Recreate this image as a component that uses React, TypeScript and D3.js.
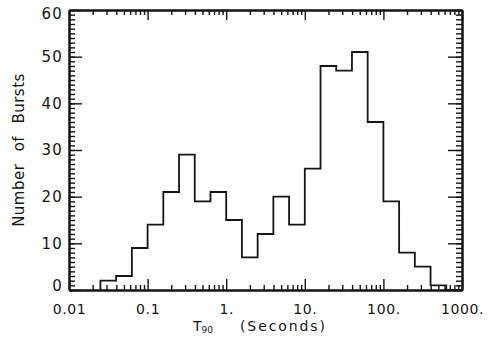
import React, { useEffect, useRef } from "react";
import * as d3 from "d3";

// bin edges (seconds), 0.2 dex wide
const binEdges = [0.0251, 0.0398, 0.0631, 0.1, 0.1585, 0.2512, 0.3981, 0.631, 1, 1.585, 2.512, 3.981,
  6.31, 10, 15.85, 25.12, 39.81, 63.1, 100, 158.5, 251.2, 398.1, 631, 1000];
// number of bursts in each bin
const burstCounts = [2, 3, 9, 14, 21, 29, 19, 21, 15, 7, 12, 20, 14, 26, 48, 47, 51, 36, 19, 8, 5, 1, 0];

const xTickValues = [0.01, 0.1, 1, 10, 100, 1000];
const xTickLabels = ["0.01", "0.1", "1.", "10.", "100.", "1000."];
const yTickValues = [0, 10, 20, 30, 40, 50, 60];

const W = 498, H = 355;
const margin = { top: 10, right: 36, bottom: 65, left: 69 };
const ink = "#151515";

export default function App() {
  const ref = useRef<SVGSVGElement>(null);

  useEffect(() => {
    const svg = d3.select(ref.current);
    svg.selectAll("*").remove();

    const x = d3.scaleLog().domain([0.01, 1000]).range([margin.left, W - margin.right]);
    const y = d3.scaleLinear().domain([0, 60]).range([H - margin.bottom, margin.top]);

    const xMinor = x.ticks().filter(v => xTickValues.indexOf(v) < 0);
    const yMinor = d3.range(0, 61);

    const axisStyle = (g: any) => {
      g.select(".domain").attr("stroke", ink).attr("stroke-width", 2);
      g.selectAll(".tick line").attr("stroke", ink).attr("stroke-width", 1.4);
    };

    // bottom
    svg.append("g").attr("transform", `translate(0,${y(0)})`)
      .call(d3.axisBottom(x).tickValues(xMinor).tickSize(-5).tickSizeOuter(0).tickFormat(() => ""))
      .call(axisStyle);
    const bottom = svg.append("g").attr("transform", `translate(0,${y(0)})`)
      .call(d3.axisBottom(x).tickValues(xTickValues).tickSize(-11).tickSizeOuter(0).tickPadding(14)
        .tickFormat((d, i) => xTickLabels[i]))
      .call(axisStyle);
    bottom.selectAll("text").attr("font-family", "DejaVu Sans").attr("font-size", 14)
      .attr("letter-spacing", 0.6).attr("fill", ink);

    // top
    svg.append("g").attr("transform", `translate(0,${y(60)})`)
      .call(d3.axisTop(x).tickValues(xMinor).tickSize(-5).tickSizeOuter(0).tickFormat(() => ""))
      .call(axisStyle);
    svg.append("g").attr("transform", `translate(0,${y(60)})`)
      .call(d3.axisTop(x).tickValues(xTickValues).tickSize(-10).tickSizeOuter(0).tickFormat(() => ""))
      .call(axisStyle);

    // left
    svg.append("g").attr("transform", `translate(${x(0.01)},0)`)
      .call(d3.axisLeft(y).tickValues(yMinor).tickSize(-6).tickSizeOuter(0).tickFormat(() => ""))
      .call(axisStyle);
    const left = svg.append("g").attr("transform", `translate(${x(0.01)},0)`)
      .call(d3.axisLeft(y).tickValues(yTickValues).tickSize(-13).tickSizeOuter(0).tickPadding(6))
      .call(axisStyle);
    left.selectAll("text").attr("font-family", "DejaVu Sans").attr("font-size", 15)
      .attr("letter-spacing", 1.2).attr("fill", ink)
      .attr("transform", (d: any) => d === 0 ? "translate(0,-4)" : d === 60 ? "translate(0,4)" : null);

    // right
    svg.append("g").attr("transform", `translate(${x(1000)},0)`)
      .call(d3.axisRight(y).tickValues(yMinor).tickSize(-6).tickSizeOuter(0).tickFormat(() => ""))
      .call(axisStyle);
    svg.append("g").attr("transform", `translate(${x(1000)},0)`)
      .call(d3.axisRight(y).tickValues(yTickValues).tickSize(-14).tickSizeOuter(0).tickFormat(() => ""))
      .call(axisStyle);

    // histogram outline
    const pts: [number, number][] = [[binEdges[0], 0]];
    burstCounts.forEach((c, i) => pts.push([binEdges[i], c]));
    pts.push([binEdges[binEdges.length - 1], 0]);
    const line = d3.line<[number, number]>()
      .x(d => x(d[0]))
      .y(d => y(d[1]))
      .curve(d3.curveStepAfter);
    svg.append("path").attr("d", line(pts) as string)
      .attr("fill", "none").attr("stroke", ink).attr("stroke-width", 1.8);

    // axis titles
    svg.append("text")
      .attr("transform", `translate(24,${(y(0) + y(60)) / 2}) rotate(-90)`)
      .attr("text-anchor", "middle")
      .attr("font-family", "DejaVu Sans").attr("font-size", 15)
      .attr("letter-spacing", 0.5).attr("word-spacing", 7).attr("fill", ink)
      .text("Number of Bursts");

    const xt = svg.append("text").attr("font-family", "DejaVu Sans").attr("fill", ink)
      .attr("y", 331);
    xt.append("tspan").attr("x", 193).attr("font-size", 14).text("T");
    xt.append("tspan").attr("font-size", 9).attr("dy", 2).text("90");
    xt.append("tspan").attr("x", 240).attr("dy", -2).attr("font-size", 14)
      .attr("letter-spacing", 1.9).text("(Seconds)");
  }, []);

  return (
    <svg ref={ref} width={W} height={H}
      style={{ position: "absolute", left: 0, top: 0, background: "#fff" }} />
  );
}
